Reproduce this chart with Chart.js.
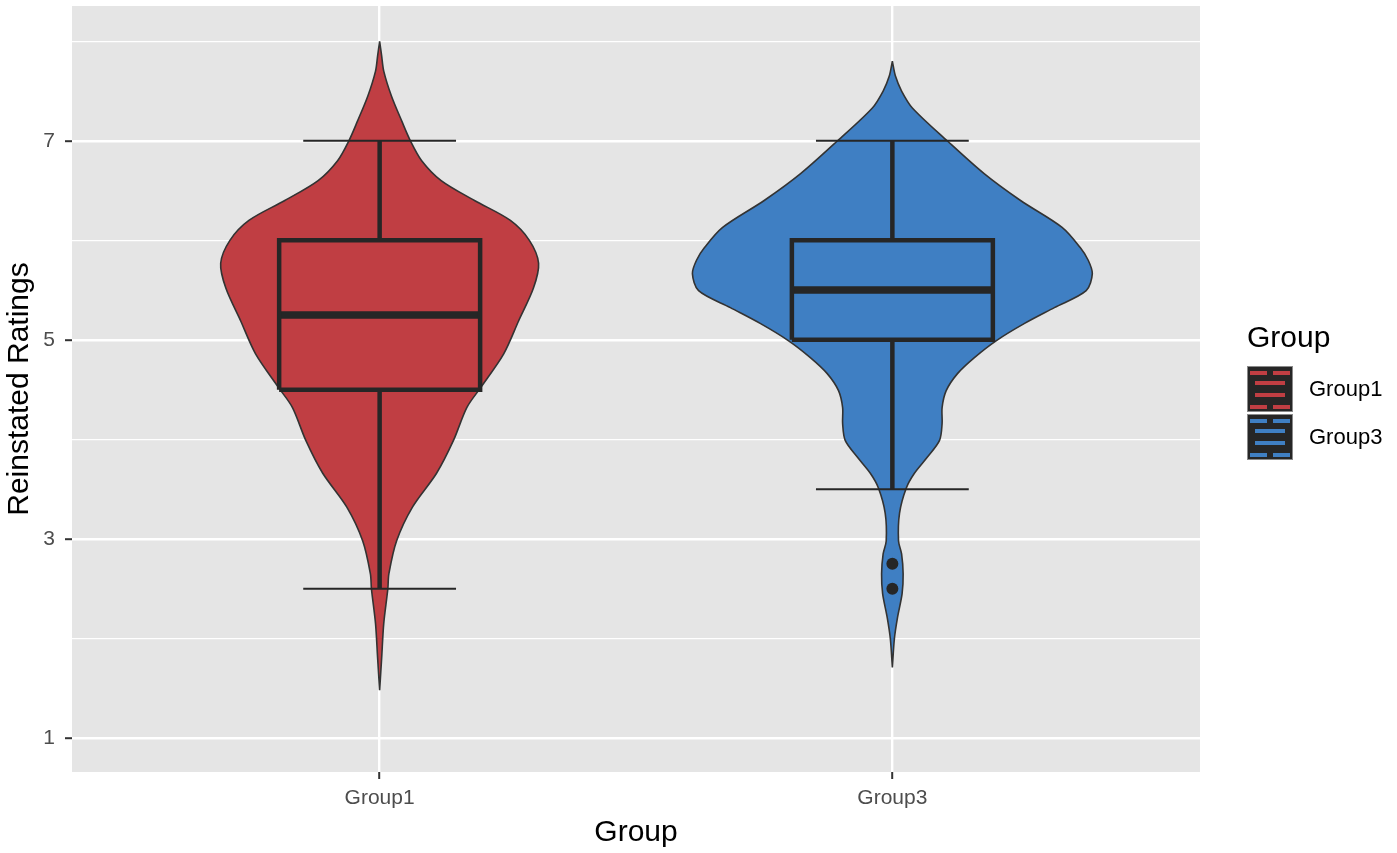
<!DOCTYPE html>
<html lang="en">
<head>
  <meta charset="UTF-8">
  <title>Reinstated Ratings by Group</title>
  <script src="https://cdn.jsdelivr.net/npm/chart.js"></script>
  <style>
    body { margin: 0; background: #fff; font-family: "Liberation Sans", Arial, sans-serif; }
    .wrap { position: relative; width: 1397px; height: 853px; }
    .legend { position: absolute; left: 1247px; top: 319px; }
    .legend h4 { margin: 0 0 10px 0; font-weight: normal; font-size: 30px; color: #000; line-height: 36px; }
    .item { display: flex; align-items: center; height: 48px; }
    .key {
      position: relative; width: 44px; height: 44px;
      background: #262626; border: 1px solid #8a8a8a; margin-right: 16px;
    }
    .key i { position: absolute; height: 4px; display: block; }
    .item span { font-size: 22px; color: #000; }
  </style>
</head>
<body>
<div class="wrap">
  <canvas id="violin" width="1397" height="853"></canvas>
  <div class="legend" id="legend"><h4>Group</h4></div>
</div>

<script>
  // categories and colours
  const groups = ['Group1', 'Group3'];
  const fills  = ['#C03E43', '#3F7FC3'];

  // violin outlines: rating levels and half widths (in category units)
  const g1Y    = [8.0, 7.85, 7.7, 7.45, 7.2, 7.0, 6.8, 6.6, 6.4, 6.2, 6.0, 5.77, 5.52, 5.19, 4.86, 4.52, 4.32, 3.99, 3.66, 3.32, 2.98, 2.65, 2.5, 2.15, 1.81, 1.48];
  const g1Half = [0, .004, .008, .023, .043, .060, .082, .120, .185, .255, .292, .310, .300, .271, .242, .197, .170, .144, .111, .064, .033, .018, .016, .008, .004, 0];
  const g3Y    = [7.8, 7.65, 7.5, 7.33, 7.0, 6.67, 6.4, 6.13, 5.93, 5.8, 5.665, 5.494, 5.324, 5.163, 4.993, 4.822, 4.661, 4.49, 4.32, 4.16, 3.99, 3.82, 3.66, 3.51, 3.26, 2.98, 2.85, 2.65, 2.45, 2.21, 2.0, 1.71];
  const g3Half = [0, .006, .018, .039, .107, .179, .250, .331, .366, .382, .390, .378, .316, .257, .203, .160, .127, .105, .097, .097, .092, .068, .043, .027, .014, .012, .018, .021, .019, .010, .004, 0];

  // box plot stats: [lower whisker, q1, median, q3, upper whisker]
  const g1Box = [2.5, 4.5, 5.25, 6.0, 7.0];
  const g3Box = [3.5, 5.0, 5.5, 6.0, 7.0];
  const g3Outliers = [2.75, 2.5];

  const yTicks = [1, 2, 3, 4, 5, 6, 7, 8];
  const xTicks = [1, 2];

  const dark = '#262626';

  function violin(center, ys, halves, color) {
    const right = ys.map((y, i) => ({ x: center + halves[i], y }));
    const left  = ys.map((y, i) => ({ x: center - halves[i], y })).reverse();
    const pts = right.concat(left);
    pts.push(pts[0]);
    return {
      data: pts, showLine: true, fill: 'shape', backgroundColor: color,
      borderColor: '#333', borderWidth: 1.6, pointRadius: 0, tension: 0.3, order: 5
    };
  }

  function seg(points, width, order) {
    return { data: points, showLine: true, fill: false, borderColor: dark,
             borderWidth: width, pointRadius: 0, tension: 0, order,
             borderCapStyle: 'butt', borderJoinStyle: 'miter' };
  }

  function boxplot(c, s) {
    const bw = 0.196, cw = 0.149;
    return [
      seg([{x: c - bw, y: s[1]}, {x: c + bw, y: s[1]}, {x: c + bw, y: s[3]}, {x: c - bw, y: s[3]}, {x: c - bw, y: s[1]}], 4.5, 3),
      seg([{x: c - bw, y: s[2]}, {x: c + bw, y: s[2]}], 7.5, 3),
      seg([{x: c, y: s[3]}, {x: c, y: s[4]}], 4.5, 3),
      seg([{x: c, y: s[0]}, {x: c, y: s[1]}], 4.5, 3),
      seg([{x: c - cw, y: s[4]}, {x: c + cw, y: s[4]}], 2, 2),
      seg([{x: c - cw, y: s[0]}, {x: c + cw, y: s[0]}], 2, 2)
    ];
  }

  const datasets = [
    violin(1, g1Y, g1Half, fills[0]),
    violin(2, g3Y, g3Half, fills[1]),
    ...boxplot(1, g1Box),
    ...boxplot(2, g3Box),
    { data: g3Outliers.map(y => ({ x: 2, y })), pointRadius: 6, pointBackgroundColor: dark,
      pointBorderWidth: 0, showLine: false, order: 1 }
  ];

  const panelBg = {
    id: 'panelBg',
    beforeDraw(chart) {
      const { ctx, chartArea: a } = chart;
      ctx.save();
      ctx.fillStyle = '#E5E5E5';
      ctx.fillRect(a.left, a.top, a.right - a.left, a.bottom - a.top);
      ctx.restore();
    }
  };

  const tickFont  = { family: '"Liberation Sans", Arial, sans-serif', size: 21 };
  const titleFont = { family: '"Liberation Sans", Arial, sans-serif', size: 30 };

  new Chart(document.getElementById('violin'), {
    type: 'scatter',
    data: { datasets },
    plugins: [panelBg],
    options: {
      responsive: false,
      animation: false,
      events: [],
      layout: { padding: { top: 5, right: 197, left: 0, bottom: 0 } },
      plugins: { legend: { display: false }, tooltip: { enabled: false } },
      scales: {
        x: {
          type: 'linear', min: 0.4, max: 2.6,
          afterBuildTicks: a => { a.ticks = xTicks.map(v => ({ value: v })); },
          afterFit: a => { a.height = 81; a.paddingLeft = 0; a.paddingRight = 0; },
          border: { display: false },
          grid: { color: '#fff', lineWidth: 2.4, tickColor: '#333', tickLength: 7, tickWidth: 2 },
          ticks: { callback: v => groups[v - 1], color: '#4D4D4D', font: tickFont, padding: 7, maxRotation: 0, autoSkip: false },
          title: { display: true, text: 'Group', color: '#000', font: titleFont, padding: { top: 0, bottom: 2 } }
        },
        y: {
          min: 0.659, max: 8.354,
          afterBuildTicks: a => { a.ticks = yTicks.map(v => ({ value: v })); },
          afterFit: a => { a.width = 72; a.paddingTop = 0; a.paddingBottom = 0; },
          border: { display: false },
          grid: {
            color: '#fff',
            lineWidth: c => (c.tick && c.tick.value % 2 === 1) ? 2.4 : 1.2,
            tickColor: c => (c.tick && c.tick.value % 2 === 1) ? '#333' : 'rgba(0,0,0,0)',
            tickLength: 7, tickWidth: 2
          },
          ticks: { callback: v => (v % 2 === 1 ? String(v) : ''), color: '#4D4D4D', font: tickFont, padding: 10, autoSkip: false },
          title: { display: true, text: 'Reinstated Ratings', color: '#000', font: titleFont, padding: { top: 2, bottom: 0 } }
        }
      }
    }
  });

  // legend: fill colour showing through the boxplot glyph
  const legend = document.getElementById('legend');
  const bars = [
    [5, 3, 17], [5, 26, 17], [15, 8, 30], [27, 8, 30], [39, 3, 17], [39, 26, 17]
  ];
  groups.forEach((g, i) => {
    const item = document.createElement('div');
    item.className = 'item';
    const key = document.createElement('div');
    key.className = 'key';
    bars.forEach(([top, left, w]) => {
      const b = document.createElement('i');
      b.style.cssText = `top:${top - 1}px;left:${left - 1}px;width:${w}px;background:${fills[i]}`;
      key.appendChild(b);
    });
    const label = document.createElement('span');
    label.textContent = g;
    item.appendChild(key);
    item.appendChild(label);
    legend.appendChild(item);
  });
</script>
</body>
</html>
